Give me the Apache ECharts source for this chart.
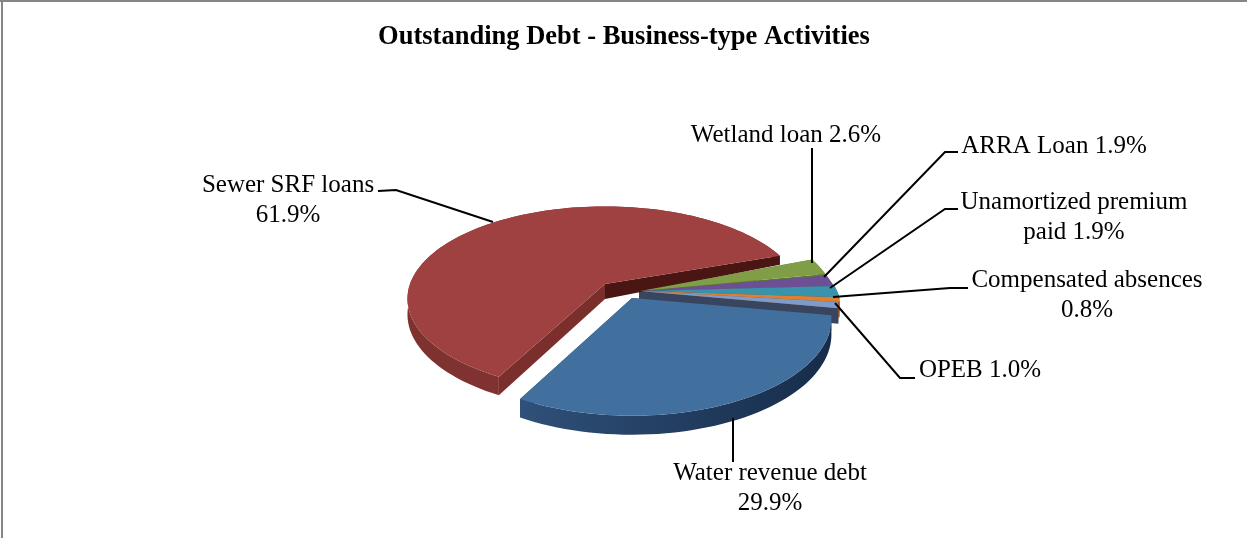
<!DOCTYPE html>
<html>
<head>
<meta charset="utf-8">
<style>html,body{margin:0;padding:0;background:#fff}#c{width:1247px;height:538px}</style>
<script src="https://cdn.jsdelivr.net/npm/echarts@6/dist/echarts.min.js"></script>
</head>
<body>
<div id="c"></div>
<script>
// ---- data (clockwise, beginning where the Sewer slice ends) ----
const chartTitle = 'Outstanding Debt - Business-type Activities';
const sliceNames = ['Wetland loan', 'ARRA Loan', 'Unamortized premium paid', 'Compensated absences', 'OPEB', 'Water revenue debt', 'Sewer SRF loans'];
const sliceValues = [2.6, 1.9, 1.9, 0.8, 1.0, 29.9, 61.9];
const sliceLabels = [
  ['Wetland loan 2.6%'],
  ['ARRA Loan 1.9%'],
  ['Unamortized premium', 'paid 1.9%'],
  ['Compensated absences', '0.8%'],
  ['OPEB 1.0%'],
  ['Water revenue debt', '29.9%'],
  ['Sewer SRF loans', '61.9%']
];

// ---- styles and layout ----
const startAngle = 70.7;
const sliceApex = [[640,291],[641,291],[642,291],[641,291],[639,291],[632,298],[605,284]];
// horizontal radius, vertical radius, perspective
const sliceShape = [[195,102,.21],[195,93,.21],[195,93,.21],[195,93,.21],[195,93,.21],[195,93,.21],[195,90,.16]];
const topColors = ['#7F9E45','#6C4F94','#3A93AC','#E0802E','#7F9BCB','#41709F','#9E4140'];
const rimColors = [['#5E7732','#5E7732'],['#4F3A70','#4F3A70'],['#1F6D85','#1F6D85'],['#A85D1E','#A85D1E'],['#39445F','#39445F'],['#2F5078','#172C4A'],['#7E3230','#84332F']];
const cutColors = ['#5E7732','#4F3A70','#1F6D85','#A85D1E','#39445F','#2F5078','#4A1614'];
const startCutColors = ['#5E7732','#4F3A70','#1F6D85','#A85D1E','#39445F','#2F5078','#7A2F2D'];
const labelBoxes = [ // text centre x, first line y
  [786,135],[1054,146],[1074,202],[1087,280],[980,370],[770,473],[288,185]
];
const lineHeight = 30.5;
const leaderLines = [
  [[812,148],[812,263]],
  [[958,152],[945,152],[824,277]],
  [[958,209],[945,209],[830,288]],
  [[968,288],[950,288],[833,297]],
  [[915,378],[900,378],[835,303]],
  [[733,418],[733,462]],
  [[378,191],[396,190],[493,222]]
];
const total = sliceValues.reduce((a,b)=>a+b,0);

function project(i, deg) {
  const apex = sliceApex[i], sh = sliceShape[i];
  const t = deg*Math.PI/180, X = Math.sin(t), Y = -Math.cos(t), s = 1/(1-sh[2]*Y);
  return {x: apex[0]+sh[0]*X*s, y: apex[1]+sh[1]*Y*s, Y};
}
function depthAt(Y){ return Y<0 ? Math.max(6,15+18*Y) : 15+4*Y; }
function arcPoints(i, a0, a1){
  const pts=[]; const n=Math.max(4,Math.ceil((a1-a0)/2));
  for(let k=0;k<=n;k++){ pts.push(project(i,a0+(a1-a0)*k/n)); }
  return pts;
}
function poly(points, fill, z2){
  return {type:'polygon', shape:{points}, style:{fill, stroke:null}, z2, silent:true};
}
const textFont = '25px "Liberation Serif","Times New Roman",serif';

function renderSlice(params, api){
  const i = params.dataIndex, v = api.value(0);
  let before = 0; for(let j=0;j<i;j++) before += sliceValues[j];
  const a0 = startAngle + before/total*360, a1 = a0 + v/total*360;
  const apex = sliceApex[i], arc = arcPoints(i,a0,a1);
  const dApex = 15;
  const children = [];
  const first = arc[0], last = arc[arc.length-1];
  children.push(poly([apex,[first.x,first.y],[first.x,first.y+depthAt(first.Y)],[apex[0],apex[1]+dApex]], startCutColors[i], 1));
  const wall = arc.map(p=>[p.x,p.y]).concat(arc.slice().reverse().map(p=>[p.x,p.y+depthAt(p.Y)]));
  children.push(poly(wall, new echarts.graphic.LinearGradient(0,0,1,0,[{offset:0,color:rimColors[i][0]},{offset:1,color:rimColors[i][1]}]), 2));
  children.push(poly([apex,[last.x,last.y],[last.x,last.y+depthAt(last.Y)],[apex[0],apex[1]+dApex]], cutColors[i], 3));
  children.push(poly([apex].concat(arc.map(p=>[p.x,p.y])), topColors[i], 4));
  return {type:'group', children};
}
function renderLabel(params, api){
  const i = params.dataIndex, children = [];
  children.push({type:'polyline', shape:{points:leaderLines[i]}, style:{stroke:'#000', lineWidth:2, fill:null}, z2:5, silent:true});
  sliceLabels[i].forEach((line,k)=>{
    children.push({type:'text', x:labelBoxes[i][0], y:labelBoxes[i][1]+k*lineHeight, z2:6, silent:true,
      style:{text:line, font:textFont, fill:'#000', align:'center', verticalAlign:'middle'}});
  });
  return {type:'group', children};
}

const chart = echarts.init(document.getElementById('c'), null, {renderer:'canvas'});
chart.setOption({
  animation:false,
  backgroundColor:'#fff',
  title:{text:chartTitle, left:619, top:19, textAlign:'center',
    textStyle:{fontFamily:'"Liberation Serif","Times New Roman",serif', fontWeight:'bold', fontSize:26.5, color:'#000'}},
  graphic:[
    {type:'line', shape:{x1:0,y1:1,x2:1247,y2:1}, style:{stroke:'#868686',lineWidth:2}},
    {type:'line', shape:{x1:2,y1:0,x2:2,y2:538}, style:{stroke:'#868686',lineWidth:2}}
  ],
  tooltip:{show:false},
  series:[
    {type:'custom', name:'Outstanding debt share', coordinateSystem:'none', renderItem:renderSlice, z:1,
      data:sliceValues.map((value,i)=>({name:sliceNames[i], value:[value]}))},
    {type:'custom', name:'Labels', coordinateSystem:'none', renderItem:renderLabel, z:2,
      data:sliceValues.map((value,i)=>({name:sliceNames[i], value:[value]}))}
  ]
});
</script>
</body>
</html>
